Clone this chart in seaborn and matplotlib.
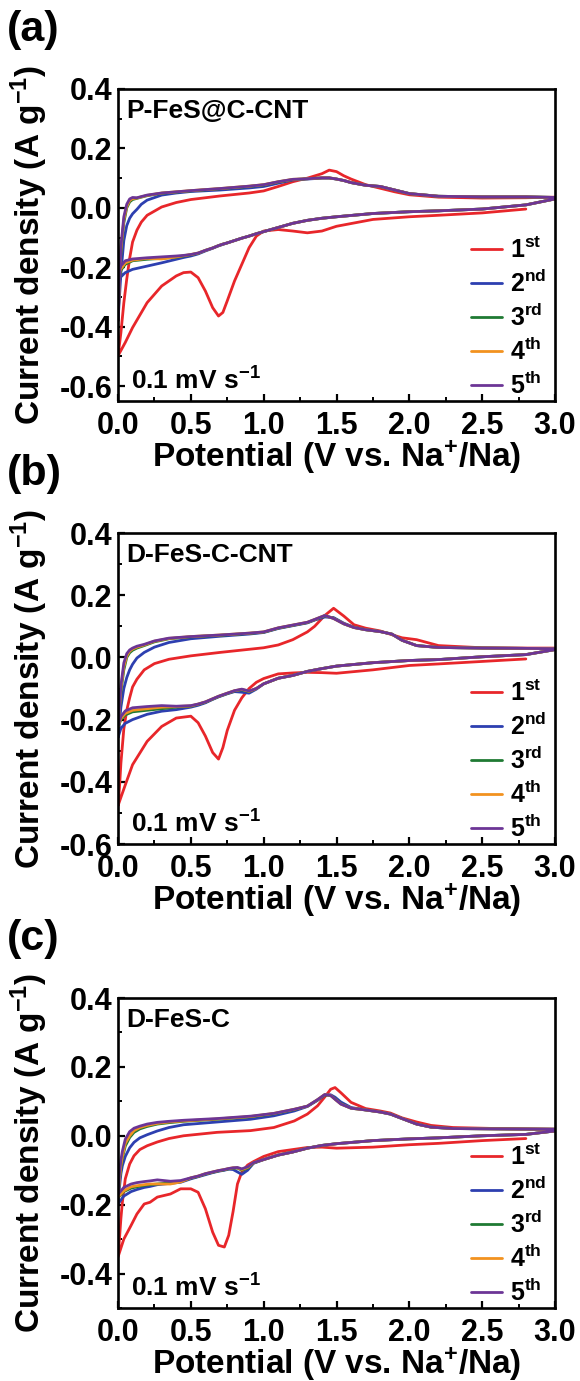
import numpy as np
import pandas as pd
import seaborn as sns
import matplotlib.pyplot as plt
import matplotlib.ticker as ticker

nan = np.nan

cycles = ['$\\mathregular{1^{st}}$', '$\\mathregular{2^{nd}}$', '$\\mathregular{3^{rd}}$',
          '$\\mathregular{4^{th}}$', '$\\mathregular{5^{th}}$']
colors = ['#e8262a', '#2d3fb0', '#1f7a33', '#f2921f', '#6c3596']
samples = ['P-FeS@C-CNT', 'D-FeS-C-CNT', 'D-FeS-C']
tags = ['(a)', '(b)', '(c)']
x_ticks = [0.0, 0.5, 1.0, 1.5, 2.0, 2.5, 3.0]
y_ticks_a = [-0.6, -0.4, -0.2, 0.0, 0.2, 0.4]
y_ticks_b = [-0.6, -0.4, -0.2, 0.0, 0.2, 0.4]
y_ticks_c = [-0.4, -0.2, 0.0, 0.2, 0.4]

# ---------------- panel (a): P-FeS@C-CNT ----------------
a_cath_v = [3.0, 2.8, 2.5, 2.2, 2.0, 1.75, 1.5, 1.4, 1.3, 1.2, 1.1, 1.0, 0.95, 0.9, 0.85, 0.8,
            0.75, 0.72, 0.69, 0.65, 0.6, 0.55, 0.5, 0.45, 0.4, 0.3, 0.2, 0.1, 0.05, 0.02, 0.0]
a_cath_1 = [nan, -0.004, -0.017, -0.025, -0.030, -0.039, -0.062, -0.078, -0.084, -0.078, -0.073,
            -0.078, -0.095, -0.134, -0.19, -0.246, -0.313, -0.352, -0.364, -0.336, -0.28, -0.235,
            -0.216, -0.218, -0.229, -0.263, -0.319, -0.403, -0.453, -0.48, -0.498]
a_cath_2 = [0.030, 0.010, -0.004, -0.010, -0.013, -0.019, -0.030, -0.035, -0.042, -0.052, -0.066,
            -0.080, -0.087, -0.095, -0.102, -0.110, -0.118, -0.123, -0.128, -0.136, -0.145, -0.155,
            -0.162, -0.167, -0.173, -0.185, -0.196, -0.207, -0.218, -0.232, -0.250]
a_cath_3 = [0.030, 0.010, -0.004, -0.010, -0.013, -0.019, -0.030, -0.035, -0.042, -0.052, -0.066,
            -0.080, -0.087, -0.095, -0.102, -0.110, -0.118, -0.122, -0.127, -0.135, -0.143, -0.153,
            -0.158, -0.162, -0.166, -0.170, -0.173, -0.178, -0.190, -0.210, -0.230]
a_cath_4 = [0.030, 0.010, -0.004, -0.010, -0.013, -0.019, -0.030, -0.035, -0.042, -0.052, -0.066,
            -0.080, -0.087, -0.095, -0.102, -0.110, -0.118, -0.122, -0.127, -0.135, -0.143, -0.152,
            -0.157, -0.161, -0.165, -0.172, -0.170, -0.176, -0.185, -0.205, -0.220]
a_cath_5 = [0.030, 0.010, -0.004, -0.010, -0.013, -0.019, -0.030, -0.035, -0.042, -0.052, -0.066,
            -0.080, -0.087, -0.095, -0.102, -0.110, -0.118, -0.122, -0.127, -0.135, -0.143, -0.152,
            -0.157, -0.160, -0.162, -0.165, -0.168, -0.172, -0.178, -0.195, -0.210]

a_an_v = [0.0, 0.01, 0.02, 0.04, 0.06, 0.08, 0.1, 0.13, 0.16, 0.2, 0.3, 0.4, 0.5, 0.7, 0.9, 1.0,
          1.1, 1.2, 1.3, 1.4, 1.45, 1.5, 1.55, 1.6, 1.7, 1.8, 1.9, 2.0, 2.2, 2.5, 2.8, 3.0]
a_an_1 = [-0.498, -0.46, -0.42, -0.32, -0.24, -0.17, -0.115, -0.075, -0.048, -0.025, 0.003, 0.018,
          0.028, 0.040, 0.050, 0.057, 0.072, 0.088, 0.100, 0.115, 0.127, 0.122, 0.108, 0.097,
          0.078, 0.066, 0.054, 0.044, 0.036, 0.033, 0.034, 0.036]
a_an_2 = [-0.38, -0.30, -0.22, -0.11, -0.06, -0.035, -0.020, -0.005, 0.012, 0.026, 0.043, 0.050,
          0.055, 0.060, 0.067, 0.072, 0.083, 0.094, 0.097, 0.100, 0.100, 0.097, 0.092, 0.085,
          0.076, 0.072, 0.060, 0.048, 0.039, 0.037, 0.037, 0.035]
a_an_3 = [-0.38, -0.26, -0.15, -0.05, 0.000, 0.020, 0.028, 0.032, 0.036, 0.041, 0.049, 0.053,
          0.057, 0.064, 0.072, 0.077, 0.087, 0.095, 0.098, 0.101, 0.101, 0.097, 0.092, 0.085,
          0.076, 0.072, 0.060, 0.048, 0.039, 0.037, 0.037, 0.035]
a_an_4 = [-0.38, -0.25, -0.14, -0.04, 0.005, 0.025, 0.031, 0.033, 0.037, 0.042, 0.050, 0.054,
          0.058, 0.065, 0.073, 0.078, 0.088, 0.096, 0.098, 0.101, 0.101, 0.097, 0.092, 0.085,
          0.076, 0.072, 0.060, 0.048, 0.039, 0.037, 0.037, 0.035]
a_an_5 = [-0.38, -0.25, -0.13, -0.03, 0.012, 0.030, 0.035, 0.034, 0.038, 0.043, 0.050, 0.054,
          0.058, 0.065, 0.073, 0.078, 0.088, 0.096, 0.098, 0.101, 0.101, 0.097, 0.092, 0.085,
          0.076, 0.072, 0.060, 0.048, 0.039, 0.037, 0.037, 0.035]

# ---------------- panel (b): D-FeS-C-CNT ----------------
b_cath_v = [3.0, 2.8, 2.5, 2.2, 2.0, 1.75, 1.5, 1.4, 1.3, 1.2, 1.1, 1.0, 0.95, 0.9, 0.85, 0.8,
            0.75, 0.72, 0.69, 0.65, 0.6, 0.55, 0.5, 0.4, 0.3, 0.2, 0.1, 0.05, 0.02, 0.0]
b_cath_1 = [nan, -0.005, -0.013, -0.021, -0.026, -0.040, -0.051, -0.049, -0.048, -0.050, -0.053,
            -0.068, -0.080, -0.100, -0.130, -0.170, -0.235, -0.290, -0.327, -0.306, -0.253, -0.210,
            -0.189, -0.195, -0.222, -0.270, -0.345, -0.410, -0.450, -0.477]
b_cath_2 = [0.025, 0.009, 0.002, -0.007, -0.010, -0.017, -0.028, -0.036, -0.045, -0.058, -0.067,
            -0.085, -0.102, -0.115, -0.112, -0.110, -0.117, -0.122, -0.127, -0.135, -0.146, -0.154,
            -0.160, -0.168, -0.173, -0.183, -0.200, -0.212, -0.228, -0.258]
b_cath_3 = [0.025, 0.009, 0.002, -0.007, -0.010, -0.017, -0.028, -0.036, -0.045, -0.058, -0.067,
            -0.085, -0.100, -0.110, -0.104, -0.108, -0.116, -0.121, -0.126, -0.134, -0.144, -0.151,
            -0.157, -0.160, -0.165, -0.170, -0.175, -0.185, -0.200, -0.225]
b_cath_4 = [0.025, 0.009, 0.002, -0.007, -0.010, -0.017, -0.028, -0.036, -0.045, -0.058, -0.067,
            -0.085, -0.100, -0.109, -0.103, -0.107, -0.115, -0.120, -0.125, -0.133, -0.143, -0.150,
            -0.156, -0.158, -0.160, -0.165, -0.170, -0.180, -0.196, -0.222]
b_cath_5 = [0.025, 0.009, 0.002, -0.007, -0.010, -0.017, -0.028, -0.036, -0.045, -0.058, -0.067,
            -0.085, -0.100, -0.108, -0.102, -0.107, -0.115, -0.120, -0.125, -0.133, -0.143, -0.150,
            -0.155, -0.157, -0.155, -0.158, -0.162, -0.172, -0.190, -0.220]

b_an_v = [0.0, 0.01, 0.02, 0.04, 0.06, 0.08, 0.1, 0.13, 0.18, 0.25, 0.35, 0.5, 0.7, 0.9, 1.0, 1.1,
          1.2, 1.3, 1.35, 1.42, 1.48, 1.55, 1.62, 1.7, 1.8, 1.88, 1.95, 2.05, 2.2, 2.5, 2.8, 3.0]
b_an_1 = [-0.477, -0.42, -0.34, -0.23, -0.17, -0.13, -0.095, -0.070, -0.040, -0.020, -0.006, 0.005,
          0.016, 0.026, 0.031, 0.040, 0.057, 0.082, 0.100, 0.135, 0.158, 0.133, 0.105, 0.094,
          0.085, 0.073, 0.063, 0.057, 0.038, 0.031, 0.030, 0.030]
b_an_2 = [-0.258, -0.21, -0.16, -0.10, -0.065, -0.040, -0.022, -0.002, 0.016, 0.033, 0.048, 0.060,
          0.068, 0.075, 0.080, 0.093, 0.102, 0.111, 0.120, 0.130, 0.128, 0.110, 0.097, 0.089,
          0.083, 0.075, 0.055, 0.038, 0.032, 0.030, 0.029, 0.028]
b_an_3 = [-0.225, -0.17, -0.11, -0.04, 0.000, 0.015, 0.023, 0.030, 0.038, 0.050, 0.060, 0.066,
          0.071, 0.077, 0.081, 0.094, 0.103, 0.112, 0.121, 0.134, 0.126, 0.108, 0.096, 0.089,
          0.083, 0.075, 0.055, 0.038, 0.032, 0.030, 0.029, 0.028]
b_an_4 = [-0.222, -0.165, -0.10, -0.03, 0.005, 0.020, 0.027, 0.033, 0.040, 0.052, 0.061, 0.067,
          0.072, 0.078, 0.082, 0.095, 0.104, 0.113, 0.122, 0.135, 0.125, 0.108, 0.096, 0.089,
          0.083, 0.075, 0.055, 0.038, 0.032, 0.030, 0.029, 0.028]
b_an_5 = [-0.220, -0.16, -0.09, -0.018, 0.012, 0.024, 0.030, 0.036, 0.042, 0.053, 0.062, 0.067,
          0.072, 0.078, 0.082, 0.095, 0.104, 0.113, 0.122, 0.135, 0.125, 0.108, 0.096, 0.089,
          0.083, 0.075, 0.055, 0.038, 0.032, 0.030, 0.029, 0.028]

# ---------------- panel (c): D-FeS-C ----------------
c_cath_v = [3.0, 2.8, 2.5, 2.2, 2.0, 1.75, 1.5, 1.4, 1.3, 1.2, 1.1, 1.0, 0.93, 0.89, 0.85, 0.82,
            0.79, 0.76, 0.73, 0.69, 0.65, 0.6, 0.55, 0.5, 0.43, 0.36, 0.27, 0.22, 0.18, 0.13,
            0.09, 0.04, 0.0]
c_cath_1 = [nan, -0.008, -0.014, -0.022, -0.026, -0.033, -0.036, -0.033, -0.034, -0.040, -0.046,
            -0.060, -0.075, -0.085, -0.105, -0.140, -0.220, -0.289, -0.323, -0.318, -0.280, -0.212,
            -0.164, -0.154, -0.154, -0.169, -0.178, -0.193, -0.198, -0.227, -0.260, -0.300, -0.352]
c_cath_2 = [0.014, 0.004, 0.000, -0.006, -0.009, -0.014, -0.023, -0.028, -0.036, -0.047, -0.056,
            -0.069, -0.080, -0.100, -0.112, -0.105, -0.098, -0.097, -0.100, -0.103, -0.107, -0.113,
            -0.119, -0.125, -0.135, -0.138, -0.142, -0.147, -0.150, -0.156, -0.162, -0.175, -0.198]
c_cath_3 = [0.014, 0.004, 0.000, -0.006, -0.009, -0.014, -0.023, -0.028, -0.036, -0.047, -0.056,
            -0.069, -0.079, -0.094, -0.100, -0.094, -0.094, -0.096, -0.099, -0.102, -0.106, -0.111,
            -0.118, -0.123, -0.133, -0.137, -0.140, -0.142, -0.144, -0.148, -0.152, -0.162, -0.180]
c_cath_4 = [0.014, 0.004, 0.000, -0.006, -0.009, -0.014, -0.023, -0.028, -0.036, -0.047, -0.056,
            -0.069, -0.078, -0.092, -0.098, -0.093, -0.093, -0.095, -0.098, -0.101, -0.105, -0.110,
            -0.117, -0.122, -0.134, -0.140, -0.140, -0.140, -0.142, -0.145, -0.148, -0.160, -0.178]
c_cath_5 = [0.014, 0.004, 0.000, -0.006, -0.009, -0.014, -0.023, -0.028, -0.036, -0.047, -0.056,
            -0.069, -0.078, -0.090, -0.096, -0.092, -0.093, -0.095, -0.098, -0.101, -0.105, -0.110,
            -0.117, -0.122, -0.130, -0.132, -0.128, -0.131, -0.133, -0.136, -0.140, -0.150, -0.170]

c_an_v = [0.0, 0.01, 0.02, 0.03, 0.05, 0.08, 0.11, 0.15, 0.2, 0.27, 0.35, 0.45, 0.68, 0.91, 1.07,
          1.21, 1.3, 1.37, 1.42, 1.46, 1.49, 1.53, 1.6, 1.7, 1.8, 1.87, 1.95, 2.05, 2.15, 2.3,
          2.6, 3.0]
c_an_1 = [-0.352, -0.30, -0.24, -0.193, -0.125, -0.082, -0.058, -0.040, -0.029, -0.018, -0.008,
          0.000, 0.010, 0.015, 0.024, 0.043, 0.063, 0.087, 0.113, 0.135, 0.140, 0.125, 0.097,
          0.079, 0.072, 0.066, 0.052, 0.040, 0.030, 0.024, 0.021, 0.019]
c_an_2 = [-0.198, -0.15, -0.11, -0.087, -0.060, -0.035, -0.019, -0.006, 0.003, 0.014, 0.024,
          0.032, 0.040, 0.048, 0.058, 0.072, 0.085, 0.103, 0.118, 0.119, 0.112, 0.098, 0.082,
          0.075, 0.069, 0.063, 0.050, 0.034, 0.025, 0.021, 0.020, 0.019]
c_an_3 = [-0.180, -0.13, -0.09, -0.065, -0.030, -0.005, 0.010, 0.020, 0.027, 0.034, 0.038,
          0.042, 0.048, 0.055, 0.064, 0.076, 0.086, 0.104, 0.119, 0.117, 0.107, 0.093, 0.080,
          0.075, 0.069, 0.063, 0.050, 0.034, 0.025, 0.021, 0.020, 0.019]
c_an_4 = [-0.178, -0.125, -0.085, -0.060, -0.022, 0.000, 0.015, 0.024, 0.030, 0.036, 0.040,
          0.043, 0.049, 0.056, 0.065, 0.077, 0.086, 0.105, 0.120, 0.117, 0.106, 0.092, 0.080,
          0.075, 0.069, 0.063, 0.050, 0.034, 0.025, 0.021, 0.020, 0.019]
c_an_5 = [-0.170, -0.11, -0.07, -0.045, -0.010, 0.012, 0.022, 0.028, 0.034, 0.039, 0.042,
          0.045, 0.050, 0.057, 0.065, 0.077, 0.086, 0.105, 0.120, 0.117, 0.106, 0.092, 0.080,
          0.075, 0.069, 0.063, 0.050, 0.034, 0.025, 0.021, 0.020, 0.019]


def build_frame(cath_v, cath, an_v, an):
    # one closed loop per cycle: cathodic sweep down, then anodic sweep up
    parts = []
    for name, yc, ya in zip(cycles, cath, an):
        parts.append(pd.DataFrame({'potential': cath_v + an_v, 'current': yc + ya, 'cycle': name}))
    return pd.concat(parts, ignore_index=True)


panels = [
    build_frame(a_cath_v, [a_cath_1, a_cath_2, a_cath_3, a_cath_4, a_cath_5],
                a_an_v, [a_an_1, a_an_2, a_an_3, a_an_4, a_an_5]),
    build_frame(b_cath_v, [b_cath_1, b_cath_2, b_cath_3, b_cath_4, b_cath_5],
                b_an_v, [b_an_1, b_an_2, b_an_3, b_an_4, b_an_5]),
    build_frame(c_cath_v, [c_cath_1, c_cath_2, c_cath_3, c_cath_4, c_cath_5],
                c_an_v, [c_an_1, c_an_2, c_an_3, c_an_4, c_an_5]),
]
y_limits = [(-0.65, 0.4), (-0.6, 0.4), (-0.5, 0.4)]
y_tick_sets = [y_ticks_a, y_ticks_b, y_ticks_c]

sns.set_style('ticks')
plt.rcParams['font.family'] = ['Liberation Sans', 'DejaVu Sans']
plt.rcParams['font.weight'] = 'bold'
plt.rcParams['axes.labelweight'] = 'bold'
plt.rcParams['mathtext.fontset'] = 'custom'
plt.rcParams['mathtext.rm'] = 'Liberation Sans:bold'
plt.rcParams['mathtext.bf'] = 'Liberation Sans:bold'
plt.rcParams['mathtext.it'] = 'Liberation Sans:bold'
plt.rcParams['mathtext.sf'] = 'Liberation Sans:bold'
plt.rcParams['axes.unicode_minus'] = False
for key in ['text.color', 'axes.labelcolor', 'xtick.color', 'ytick.color', 'axes.edgecolor']:
    plt.rcParams[key] = 'black'

W, H = 580, 1381
fig = plt.figure(figsize=(W / 100, H / 100), dpi=100)

# pixel rows of each axes: (top, bottom)
rows = [(89, 401), (533, 844), (998, 1308)]
left_px, right_px = 118, 555

for i, df in enumerate(panels):
    top, bot = rows[i]
    h = bot - top
    ax = fig.add_axes([left_px / W, 1 - bot / H, (right_px - left_px) / W, h / H])
    sns.lineplot(data=df, x='potential', y='current', hue='cycle', hue_order=cycles,
                 palette=colors, sort=False, estimator=None, linewidth=2.0, ax=ax)
    ax.set_xlim(0, 3.0)
    ax.set_ylim(*y_limits[i])
    ax.set_xticks(x_ticks)
    ax.set_yticks(y_tick_sets[i])
    ax.xaxis.set_major_formatter(ticker.FormatStrFormatter('%.1f'))
    ax.yaxis.set_major_formatter(ticker.FormatStrFormatter('%.1f'))
    ax.xaxis.set_minor_locator(ticker.MultipleLocator(0.25))
    ax.yaxis.set_minor_locator(ticker.MultipleLocator(0.1))
    ax.tick_params(which='major', direction='in', length=5, width=1.6, labelsize=22, pad=7)
    ax.tick_params(axis='y', which='major', pad=4)
    ax.tick_params(which='minor', direction='in', length=3, width=1.4)
    for sp in ax.spines.values():
        sp.set_linewidth(1.9)

    ax.set_xlabel('Potential (V vs. $\\mathregular{Na^{+}}$/Na)', fontsize=24, fontweight='bold')
    ax.set_ylabel('Current density (A $\\mathregular{g^{-1}}$)', fontsize=24, fontweight='bold')
    ax.xaxis.set_label_coords(0.5, -0.12)
    ax.yaxis.set_label_coords(-0.155, 0.5)

    ax.text(0.018, 0.93, samples[i], transform=ax.transAxes, fontsize=19,
            fontweight='bold', va='center', ha='left')
    ax.text(0.03, 11 / h, '0.1 mV $\\mathregular{s^{-1}}$', transform=ax.transAxes, fontsize=19,
            fontweight='bold', va='baseline', ha='left')

    handles, labels = ax.get_legend_handles_labels()
    ax.legend(handles, labels, loc='lower left', bbox_to_anchor=(0.808, 2 / h), frameon=False,
              fontsize=18, handlelength=1.25, handletextpad=0.3, labelspacing=0.28,
              borderpad=0, borderaxespad=0)

    fig.text(7 / W, 1 - (top - 59) / H, tags[i], fontsize=31, fontweight='bold',
             ha='left', va='center')

fig.savefig('out.png', dpi=100)
